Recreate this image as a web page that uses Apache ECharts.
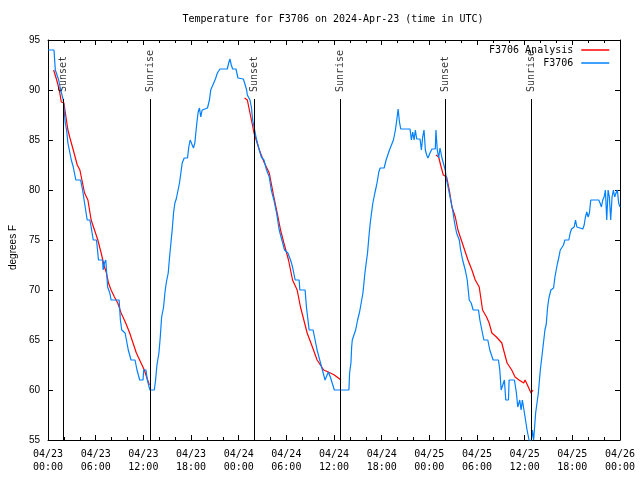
<!DOCTYPE html>
<html><head><meta charset="utf-8">
<script src="https://cdn.jsdelivr.net/npm/echarts@6/dist/echarts.min.js"></script>
<style>html,body{margin:0;padding:0;background:#fff}#c{width:640px;height:480px}</style>
</head><body><div id="c"></div>
<script>
// hours since 2024-04-23 00:00 UTC
const xTickLabels = ['04/23\n00:00','04/23\n06:00','04/23\n12:00','04/23\n18:00','04/24\n00:00','04/24\n06:00','04/24\n12:00','04/24\n18:00','04/25\n00:00','04/25\n06:00','04/25\n12:00','04/25\n18:00','04/26\n00:00'];

const obsHours = [0.0,0.75,0.92,1.17,1.34,1.59,1.92,2.0,2.17,2.34,2.5,2.68,2.93,3.18,3.5,4.1,4.35,4.6,4.93,5.27,5.43,5.69,6.1,6.27,6.35,6.86,6.94,7.1,7.27,7.5,7.78,7.94,8.95,9.11,9.28,9.7,9.87,10.1,10.45,10.95,11.2,11.54,11.96,12.04,12.33,12.5,12.83,13.38,13.54,13.71,13.96,14.13,14.3,14.55,14.71,14.88,15.13,15.3,15.47,15.63,15.8,15.97,16.14,16.39,16.55,16.72,16.89,17.14,17.56,17.72,17.89,18.14,18.31,18.48,18.73,18.9,19.06,19.23,19.4,19.65,20.07,20.32,20.48,20.73,21.07,21.32,21.65,22.57,22.74,22.9,23.07,23.24,23.66,23.91,24.58,24.75,25.0,25.09,25.42,25.6,25.76,26.01,26.26,26.6,26.85,27.18,27.51,27.85,28.1,28.43,28.77,29.1,29.44,29.77,30.19,30.53,30.78,31.11,31.61,31.7,32.36,32.53,32.87,33.37,33.62,33.87,34.2,34.54,34.87,35.12,35.29,35.54,35.79,36.04,37.88,37.96,38.13,38.22,38.3,38.55,38.72,38.97,39.22,39.47,39.64,39.89,40.05,40.22,40.39,40.56,40.72,40.89,41.14,41.31,41.48,41.64,41.81,42.31,42.56,42.81,42.98,43.23,43.48,43.73,43.9,44.07,44.24,44.4,45.57,45.74,45.91,46.08,46.24,46.41,46.83,47.0,47.16,47.33,47.5,47.66,47.83,48.08,48.33,48.75,48.83,49.0,49.17,49.34,49.59,49.84,50.0,50.17,50.43,50.68,50.93,51.18,51.43,51.77,51.94,52.19,52.52,52.77,53.02,53.27,53.52,54.19,54.36,54.61,54.86,55.36,55.61,56.03,56.7,56.87,57.04,57.29,57.45,57.62,57.96,58.04,58.71,58.96,59.13,59.38,59.55,59.71,60.05,60.3,60.55,60.72,60.97,61.13,61.38,61.72,61.97,62.22,62.55,62.72,62.89,63.05,63.3,63.64,63.81,63.97,64.14,64.31,64.48,64.73,64.89,65.06,65.56,65.73,65.9,66.23,66.4,66.57,66.73,67.32,67.49,67.65,67.82,67.99,68.15,68.32,69.32,69.49,69.66,69.83,70.0,70.16,70.33,70.5,70.66,70.83,71.0,71.17,71.33,71.5,71.67,71.83,72.0];
const obsTemps = [94,94,92,92,91,90,89,88.3,86.7,86,84.7,84,83,82.3,81,81,80,78.7,77,77,76.3,75,75,73.7,73,73,72,72.7,73,70.3,69.7,69,69,67,66,65.7,65,64,63,63,62,61,61,62,62,61,60,60,61,62.5,63.7,65.3,67.3,68.3,69.7,70.7,71.7,73.3,74.7,76,77.7,78.7,79.1,79.3,80.7,81.7,82.7,83.2,83.2,84.3,85,85,84.2,84.7,86.7,87.8,88.2,87.3,88,88.2,88.2,89,90,90.2,91.1,91.7,92.1,92.1,92.7,93.1,92.5,92.1,92.1,91.2,91.1,90.7,90,89.5,89,88.3,87,86,85,84,83.3,83,82,81.3,80,79,77.7,76,75,74,73.7,73,72.3,71,71,70,70,68.3,66,66,65,64,63,62,61,61,61.8,61.3,61.3,60,60,61.7,62.7,64.3,65,65.2,66,67,67.8,68,69.7,71.7,72.7,73.7,75.3,76.7,77.7,78.7,79.7,80.3,81,81.8,82.2,82.2,83,83.2,84,84.2,85,86,87,88.1,86.8,86.1,86.1,85,85.8,85,86,85.1,85.1,84,85.3,86,84,83.5,83.2,83.7,84.1,84.1,86,84,83.2,84.2,83.2,83,82,81,80,79,78,76.7,75.7,75,74,73,72,71,69,68.7,68,68,67,66,65,65,64,63,63,62,60,60,61,59,59,61,61,59.7,58.3,59,58,59,57.3,56,55,54,56,55,57.7,59.7,62,63.7,66,66.6,68.3,69.2,70,70.2,71.3,72,72.7,73.3,74,74.2,74.5,75,75,75.7,76.1,76.3,77,76.3,76.1,76.1,76.5,77.3,77.8,77.3,77.7,79,79,78.7,78.3,79,79.3,80,77,80,79.3,77,79.3,80,79.3,79.7,80,78.7,78.3];

// '-' separates the three night-time analysis runs
const anaHours = [0.71,0.83,1.09,1.42,1.67,2.0,2.5,2.76,3.18,3.68,4.01,4.6,5.02,5.43,5.85,6.27,6.69,7.1,7.36,7.61,7.94,8.36,8.78,9.2,9.78,10.28,10.7,11.12,11.71,12.12,12.54,12.76,
  18.0,
  24.75,25.09,25.68,25.93,26.6,27.18,27.85,28.43,28.85,29.27,29.69,30.27,30.78,31.36,31.78,32.62,33.28,33.87,34.7,35.54,36.04,36.88,
  42.0,
  48.83,49.0,49.17,49.42,49.76,50.18,50.51,50.85,51.27,51.6,52.02,52.44,52.86,53.36,53.78,54.28,54.7,55.2,55.53,55.87,56.45,57.12,57.45,57.79,58.37,58.79,59.29,59.88,60.05,60.46,60.8,61.05];
const anaTemps = [92,92,91,90,88.8,88.7,86,85.2,84,82.5,82,79.7,79,77,76,75,73.7,72.3,71.7,70.7,70,69.3,68.7,67.7,66.7,65.7,64.7,63.7,62.7,62,61,60.5,
  '-',
  89.2,89,86.7,85.7,84,82.8,81.7,79.3,77.7,76,74.7,73,71,70,68.3,65.7,64.3,63,62,61.7,61.5,61,
  '-',
  83.5,83.5,83.3,82.5,81.5,81.3,80,78.3,77.3,76,75,74,73,72,71,70.3,68,67.3,66.7,65.7,65.3,64.7,63.7,62.7,62,61.3,61,60.7,61,60.3,59.7,60];

const eventNames = ['Sunset','Sunrise','Sunset','Sunrise','Sunset','Sunrise'];
const eventHours = [1.93,12.88,25.99,36.84,50.06,60.86];

const MONO = '"DejaVu Sans Mono", "Liberation Mono", monospace';
const SANS = '"Liberation Sans", Arial, sans-serif';
const black = {color:'#000', width:1};

function xAxisCfg(pos, labels) {
  return {
    type:'value', min:0, max:72, interval:6, position:pos,
    axisLine:{show:true, onZero:false, lineStyle:black},
    axisTick:{show:true, inside:true, length:5, lineStyle:black},
    minorTick:{show:true, splitNumber:3, length:3, lineStyle:{color:'#000', width:1}},
    splitLine:{show:false}, minorSplitLine:{show:false},
    axisLabel: labels ? {show:true, formatter:v => xTickLabels[Math.round(v/6)], fontFamily:MONO, fontSize:10, lineHeight:13, margin:8, color:'#000'} : {show:false}
  };
}
function yAxisCfg(pos, labels) {
  const c = {
    type:'value', min:55, max:95, interval:5, position:pos,
    axisLine:{show:true, onZero:false, lineStyle:black},
    axisTick:{show:true, inside:true, length:5, lineStyle:black},
    splitLine:{show:false},
    axisLabel: labels ? {show:true, fontFamily:SANS, fontSize:10, margin:8, color:'#000'} : {show:false}
  };
  if (labels) {
    c.name = 'degrees F'; c.nameLocation = 'middle'; c.nameGap = 30; c.nameRotate = 90;
    c.nameTextStyle = {fontFamily:SANS, fontSize:10, color:'#000', padding:[0,15,0,0]};
  }
  return c;
}

const chart = echarts.init(document.getElementById('c'), null, {renderer:'canvas'});
chart.setOption({
  animation:false,
  backgroundColor:'#fff',
  title:{text:'Temperature for F3706 on 2024-Apr-23 (time in UTC)', left:333, top:14, textAlign:'center', padding:0,
    textStyle:{fontFamily:MONO, fontSize:10, fontWeight:'normal', color:'#000'}},
  legend:{orient:'vertical', right:30, top:45, align:'right', itemWidth:28, itemHeight:10, itemGap:3, padding:0,
    itemStyle:{opacity:0}, lineStyle:{width:1.5},
    data:['F3706 Analysis','F3706'], textStyle:{fontFamily:MONO, fontSize:10, color:'#000', padding:[0,3,0,0]}},
  grid:{left:46, right:20, top:40, bottom:40},
  xAxis:[xAxisCfg('bottom', true), xAxisCfg('top', false)],
  yAxis:[yAxisCfg('left', true), yAxisCfg('right', false)],
  series:[
    {name:'F3706 Analysis', type:'line', symbol:'none', showSymbol:false,
     data:anaHours.map((h,i)=>[h, anaTemps[i]]), lineStyle:{color:'#ff0000', width:1.2}, itemStyle:{color:'#ff0000'}, z:2},
    {name:'F3706', type:'line', symbol:'none', showSymbol:false,
     data:obsHours.map((h,i)=>[h, obsTemps[i]]), lineStyle:{color:'#0080ff', width:1.2}, itemStyle:{color:'#0080ff'}, z:3},
    {name:'events', type:'scatter', symbolSize:1, itemStyle:{color:'rgba(0,0,0,0)'}, silent:true, z:4,
     data:eventHours.map((h,i)=>({value:[h, 89.8], name:eventNames[i]})),
     label:{show:true, formatter:'{b}', rotate:90, position:'inside', align:'left', verticalAlign:'middle',
       fontFamily:MONO, fontSize:10, color:'#000'},
     markLine:{silent:true, symbol:['none','none'], animation:false, label:{show:false},
       lineStyle:{color:'#000', width:1, type:'solid'},
       data:eventHours.map(h => [{coord:[h,55]},{coord:[h,89.1]}])}
    }
  ]
});
</script></body></html>
